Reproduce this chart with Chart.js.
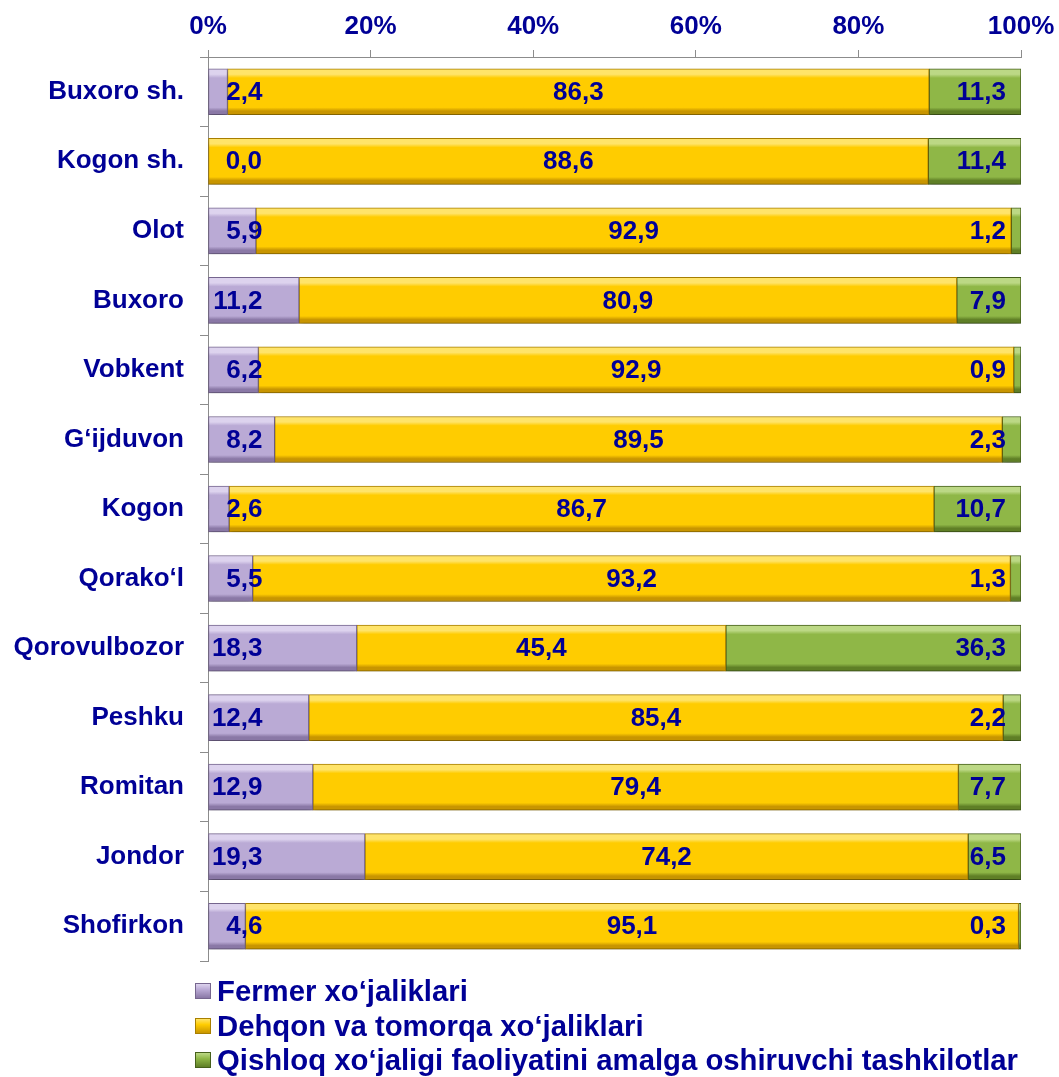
<!DOCTYPE html>
<html>
<head>
<meta charset="utf-8">
<script src="https://cdn.jsdelivr.net/npm/chart.js@4.4.1/dist/chart.umd.min.js"></script>
<style>
  html, body { margin: 0; padding: 0; background: #fff; }
  #wrap { position: relative; width: 1059px; height: 1077px; }
  #legend { position: absolute; left: 195px; top: 974px; font: bold 29.3px "Liberation Sans", Arial, sans-serif; color: #000096; }
  #legend div { height: 34.5px; line-height: 34.5px; white-space: nowrap; display: flex; align-items: center; }
  #legend span.box { display: inline-block; width: 14px; height: 14px; margin-right: 6px; border: 1px solid; box-sizing: content-box; }
</style>
</head>
<body>
<div id="wrap">
  <canvas id="c"></canvas>
  <div id="legend"></div>
</div>
<script>
// categories (top to bottom)
const districts = ['Buxoro sh.', 'Kogon sh.', 'Olot', 'Buxoro', 'Vobkent', 'G‘ijduvon', 'Kogon',
  'Qorako‘l', 'Qorovulbozor', 'Peshku', 'Romitan', 'Jondor', 'Shofirkon'];

// shares, %
const fermer = [2.4, 0.0, 5.9, 11.2, 6.2, 8.2, 2.6, 5.5, 18.3, 12.4, 12.9, 19.3, 4.6];
const dehqon = [86.3, 88.6, 92.9, 80.9, 92.9, 89.5, 86.7, 93.2, 45.4, 85.4, 79.4, 74.2, 95.1];
const tashkilot = [11.3, 11.4, 1.2, 7.9, 0.9, 2.3, 10.7, 1.3, 36.3, 2.2, 7.7, 6.5, 0.3];

const seriesNames = ['Fermer xo‘jaliklari', 'Dehqon va tomorqa xo‘jaliklari',
  'Qishloq xo‘jaligi faoliyatini amalga oshiruvchi tashkilotlar'];
const xTicks = [0, 20, 40, 60, 80, 100];

const navy = '#000096';
const fontFam = '"Liberation Sans", Arial, sans-serif';
const BAR_H = 46;

// light / base / dark shades for the bevelled bars
const palette = [
  { light: '#ddd3ee', base: '#baaad5', dark: '#8a78a6', border: '#76668f' },
  { light: '#ffe46a', base: '#ffcc00', dark: '#c89500', border: '#a87f00' },
  { light: '#bcd885', base: '#8fb747', dark: '#5f7f26', border: '#46601b' }
];

function bevel(p) {
  return (ctx) => {
    const chart = ctx.chart;
    if (!chart.chartArea || ctx.dataIndex === undefined) return p.base;
    const y = chart.scales.y.getPixelForValue(ctx.dataIndex);
    const g = chart.ctx.createLinearGradient(0, y - BAR_H / 2, 0, y + BAR_H / 2);
    g.addColorStop(0, p.light);
    g.addColorStop(0.12, p.light);
    g.addColorStop(0.2, p.base);
    g.addColorStop(0.84, p.base);
    g.addColorStop(0.92, p.dark);
    g.addColorStop(1, p.dark);
    return g;
  };
}

const values = [fermer, dehqon, tashkilot];
const datasets = values.map((d, i) => ({
  label: seriesNames[i],
  data: d,
  backgroundColor: bevel(palette[i]),
  borderColor: palette[i].border,
  borderWidth: 1,
  borderSkipped: false,
  barThickness: BAR_H
}));

// soft shadow under the bars
const shadowPlugin = {
  id: 'shadow',
  beforeDatasetsDraw(chart) {
    const c = chart.ctx;
    c.save();
    c.shadowColor = 'rgba(0,0,0,0.25)';
    c.shadowBlur = 5;
    c.shadowOffsetY = 4;
  },
  afterDatasetsDraw(chart) {
    chart.ctx.restore();
  }
};

// value labels on the bars
const labelPlugin = {
  id: 'valueLabels',
  afterDatasetsDraw(chart) {
    const c = chart.ctx;
    c.save();
    c.font = 'bold 26px ' + fontFam;
    c.fillStyle = navy;
    c.textBaseline = 'middle';
    chart.data.datasets.forEach((ds, i) => {
      const meta = chart.getDatasetMeta(i);
      meta.data.forEach((bar, j) => {
        const { x, y, base } = bar.getProps(['x', 'y', 'base'], true);
        const txt = ds.data[j].toFixed(1).replace('.', ',');
        if (i === 0) {
          c.textAlign = 'right';
          c.fillText(txt, base + 54, y + 1);
        } else if (i === 1) {
          c.textAlign = 'center';
          c.fillText(txt, (x + base) / 2, y + 1);
        } else {
          c.textAlign = 'right';
          c.fillText(txt, x - 15, y + 1);
        }
      });
    });
    c.restore();
  }
};

const chart = new Chart(document.getElementById('c'), {
  type: 'bar',
  data: { labels: districts, datasets: datasets },
  plugins: [shadowPlugin, labelPlugin],
  options: {
    indexAxis: 'y',
    responsive: true,
    maintainAspectRatio: false,
    animation: false,
    layout: { padding: { top: 0, left: 0, right: 38, bottom: 116 } },
    plugins: {
      legend: { display: false },
      tooltip: { enabled: false }
    },
    scales: {
      x: {
        position: 'top',
        stacked: true,
        min: 0,
        max: 100,
        afterBuildTicks: (s) => { s.ticks = xTicks.map(v => ({ value: v })); },
        afterFit: (s) => { s.height = 57; s.paddingLeft = 0; s.paddingRight = 0; },
        ticks: {
          callback: (v) => v + '%',
          color: navy,
          font: { family: fontFam, size: 26, weight: 'bold' },
          padding: 8,
          maxRotation: 0
        },
        grid: { drawOnChartArea: false, tickLength: 7, color: '#8c8c8c' },
        border: { color: '#8c8c8c' }
      },
      y: {
        stacked: true,
        afterFit: (s) => { s.width = 208; s.paddingTop = 0; s.paddingBottom = 0; },
        ticks: {
          color: navy,
          font: { family: fontFam, size: 26, weight: 'bold' },
          padding: 16
        },
        grid: { drawOnChartArea: false, offset: true, tickLength: 8, color: '#8c8c8c' },
        border: { color: '#8c8c8c' }
      }
    }
  }
});

// vertical legend below the plot
const legendEl = document.getElementById('legend');
chart.data.datasets.forEach((ds, i) => {
  const row = document.createElement('div');
  const box = document.createElement('span');
  box.className = 'box';
  box.style.background = 'linear-gradient(' + palette[i].light + ', ' + palette[i].base + ' 40%, ' + palette[i].dark + ')';
  box.style.borderColor = palette[i].border;
  row.appendChild(box);
  row.appendChild(document.createTextNode(ds.label));
  legendEl.appendChild(row);
});
</script>
</body>
</html>
